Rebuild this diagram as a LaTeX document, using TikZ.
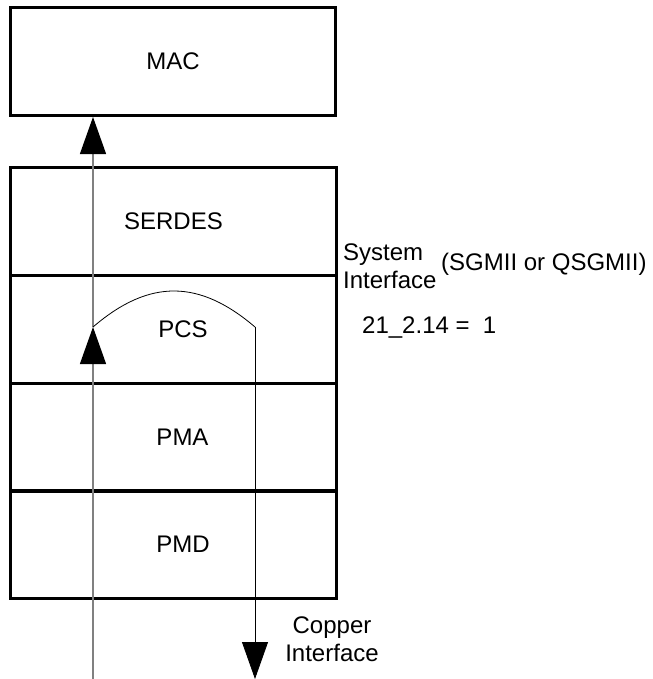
\documentclass[tikz,border=0pt]{standalone}
\usepackage{fontspec}
\setmainfont{Liberation Sans}
\usepackage{tikz}
\usetikzlibrary{arrows.meta}

\begin{document}
\begin{tikzpicture}[x=1bp,y=-1bp,
  every node/.style={font=\fontsize{24bp}{28bp}\selectfont, inner sep=0pt},
  layer/.style={draw, line width=3bp, minimum width=325bp, minimum height=108bp},
  upline/.style={draw=black!50, line width=1.3bp},
  head/.style={-{Triangle[width=26bp,length=37bp,color=black]}}]
\useasboundingbox (0,0) rectangle (653,679);
% protocol stack
\node[layer] (mac) at (173,61.5) {MAC};
\node[layer] (serdes) at (173.5,221) {SERDES};
\node[layer, label={[xshift=9.5bp]center:PCS}] (pcs) at (173.5,329) {};
\node[layer, label={[xshift=9bp]center:PMA}] (pma) at (173.5,437) {};
\node[layer, label={[xshift=9.5bp]center:PMD}] (pmd) at (173.5,544.5) {};
% side notes
\node[align=left, anchor=west] (sysif) at (343,266) {System\\Interface};
\node[anchor=west] (sgmii) at (441,264) {(SGMII or QSGMII)};
\node[anchor=west] (reg) at (362,328) {21\_2.14 =\ \ 1};
\node[align=center] (copper) at (332,639) {Copper\\Interface};
% data path
\coordinate (in) at (93,679);
\coordinate (turn) at (93,327);
\coordinate (back) at (255,327);
\coordinate (out) at (255,679);
\draw[upline, head] (in) -- (turn);
\draw[upline, head] (turn) -- (in |- mac.south);
\draw[line width=0.8bp] (turn) .. controls (150,278) and (200,280) .. (back);
\draw[line width=0.8bp, head] (back) -- (out);
\end{tikzpicture}
\end{document}
